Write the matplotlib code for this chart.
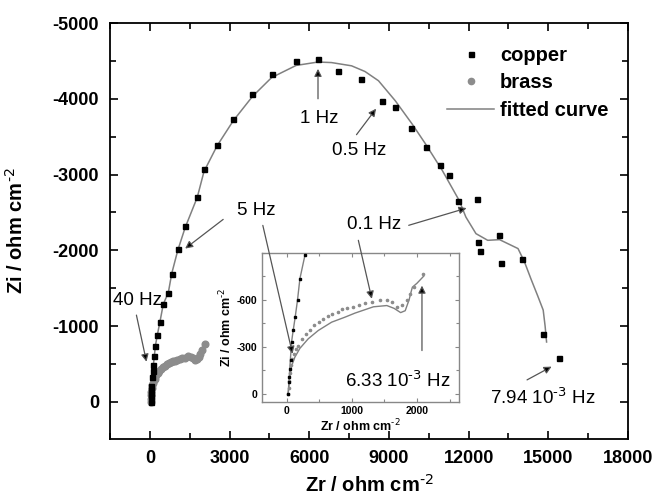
import matplotlib
matplotlib.use("Agg")
import matplotlib.pyplot as plt
from matplotlib.ticker import MultipleLocator
from matplotlib.lines import Line2D

plt.rcParams['font.family'] = ['Liberation Sans', 'DejaVu Sans']
plt.rcParams['mathtext.fontset'] = 'custom'
plt.rcParams['mathtext.default'] = 'regular'
plt.rcParams['axes.unicode_minus'] = False

# ---- data ----
cu_zr = [25, 33, 41, 51, 61, 77, 102, 133, 169, 205, 282, 380, 506, 696, 823, 1051,
         1329, 1785, 2038, 2532, 3140, 3861, 4583, 5506, 6330, 7088, 7962, 8733, 9239,
         9822, 10404, 10923, 11265, 11619, 12302, 12353, 12429, 13126, 13225, 13999,
         14782, 15416]
cu_zi = [0, -74, -106, -160, -213, -330, -404, -489, -600, -734, -883, -1057, -1290,
         -1443, -1693, -2023, -2325, -2698, -3075, -3395, -3728, -4058, -4321, -4497,
         -4523, -4365, -4260, -3970, -3886, -3610, -3369, -3128, -2996, -2649, -2680,
         -2110, -1991, -2207, -1838, -1886, -891, -575]

cuf_zr = [25, 50, 77, 102, 133, 169, 205, 282, 380, 506, 696, 823, 1051, 1329, 1785,
          2038, 2532, 3140, 3861, 4583, 5506, 6330, 6835, 7594, 8099, 8607, 9239, 9872,
          10378, 11011, 11645, 11897, 12277, 12720, 13164, 13860, 14100, 14350, 14600,
          14808, 14880, 14935]
cuf_zi = [0, -160, -330, -404, -489, -600, -734, -883, -1057, -1290, -1443, -1693,
          -2000, -2300, -2700, -3040, -3380, -3710, -4030, -4280, -4440, -4485, -4478,
          -4435, -4360, -4238, -3974, -3668, -3404, -3053, -2658, -2439, -2220, -2132,
          -2141, -2023, -1850, -1620, -1400, -1211, -1000, -790]

br_zr = [25, 35, 45, 55, 66, 90, 117, 150, 179, 231, 292, 358, 425, 497, 563, 631, 702,
         785, 855, 933, 1025, 1117, 1205, 1317, 1436, 1538, 1615, 1692, 1769, 1846,
         1897, 1948, 2092]
br_zi = [0, -40, -85, -130, -181, -220, -255, -285, -308, -351, -383, -410, -436, -457,
         -479, -495, -511, -525, -538, -545, -555, -564, -578, -585, -600, -596, -585,
         -553, -564, -596, -638, -681, -762]

brf_zr = [25, 50, 80, 128, 205, 333, 487, 692, 897, 1051, 1333, 1538, 1650, 1750, 1820,
          1880, 1910, 1930, 2000, 2103]
brf_zi = [0, -110, -180, -234, -290, -351, -404, -457, -489, -515, -555, -563, -545,
          -518, -530, -600, -650, -680, -705, -750]

x_ticks = [0, 3000, 6000, 9000, 12000, 15000, 18000]
y_ticks = [-5000, -4000, -3000, -2000, -1000, 0]
in_x_ticks = [0, 1000, 2000]
in_y_ticks = [-600, -300, 0]

FIT = '#808080'
BRASS = '#8c8c8c'
SUP2 = r'$^{\text{-2}}$'
SUP3 = r'$^{\text{-3}}$'

fig = plt.figure(figsize=(6.56, 4.98), dpi=100)
ax = fig.add_axes([0.1677, 0.1185, 0.7896, 0.8353])

ax.plot(cuf_zr, cuf_zi, color=FIT, lw=1.1, zorder=2)
ax.plot(brf_zr, brf_zi, color=FIT, lw=1.1, zorder=2)
ax.plot(br_zr, br_zi, 'o', color=BRASS, ms=4.8, mec=BRASS, zorder=3)
ax.plot(cu_zr, cu_zi, 's', color='black', ms=3.6, zorder=4)

ax.set_xlim(-1500, 18000)
ax.set_ylim(490, -5000)
ax.set_xticks(x_ticks)
ax.set_yticks(y_ticks)
ax.xaxis.set_minor_locator(MultipleLocator(1500))
ax.yaxis.set_minor_locator(MultipleLocator(500))
ax.tick_params(which='both', direction='in', top=True, right=True, width=1.2)
ax.tick_params(which='major', length=6, labelsize=13, pad=8)
ax.tick_params(which='minor', length=4)
for lab in ax.get_xticklabels() + ax.get_yticklabels():
    lab.set_fontweight('bold')
for s in ax.spines.values():
    s.set_linewidth(1.3)

ax.set_xlabel('Zr / ohm cm' + SUP2, fontsize=14.5, fontweight='bold')
ax.set_ylabel('Zi / ohm cm' + SUP2, fontsize=14.5, fontweight='bold')
ax.xaxis.set_label_coords(0.5, -0.085)
ax.yaxis.set_label_coords(-0.16, 0.5)

handles = [Line2D([], [], ls='none', marker='s', color='black', ms=3.6),
           Line2D([], [], ls='none', marker='o', color=BRASS, ms=4.5),
           Line2D([], [], color=FIT, lw=1.1)]
leg = ax.legend(handles, ['copper', 'brass', 'fitted curve'], loc='upper right',
                bbox_to_anchor=(0.962, 0.945), frameon=False, borderpad=0,
                borderaxespad=0, handlelength=2.3, handletextpad=0.3,
                labelspacing=0.42, prop={'weight': 'bold', 'size': 14.5})

arrow_kw = dict(arrowstyle='-|>', ec='#555555', fc='black', lw=0.9,
                mutation_scale=11, shrinkA=0, shrinkB=0)
TS = 13.5

ax.text(6379, -3737, '1 Hz', fontsize=TS, ha='center', va='center')
ax.annotate('', xy=(6330, -4395), xytext=(6330, -4000), arrowprops=arrow_kw)
ax.text(7860, -3316, '0.5 Hz', fontsize=TS, ha='center', va='center')
ax.annotate('', xy=(8517, -3869), xytext=(7779, -3526), arrowprops=arrow_kw)
ax.text(8430, -2342, '0.1 Hz', fontsize=TS, ha='center', va='center')
ax.annotate('', xy=(11923, -2557), xytext=(9745, -2330), arrowprops=arrow_kw)
ax.text(4006, -2527, '5 Hz', fontsize=TS, ha='center', va='center')
ax.annotate('', xy=(1329, -2023), xytext=(2760, -2408), arrowprops=arrow_kw)
ax.text(-475, -1342, '40 Hz', fontsize=TS, ha='center', va='center')
ax.annotate('', xy=(-127, -530), xytext=(-506, -1145), arrowprops=arrow_kw)
ax.text(14808, -53, '7.94 10' + SUP3 + ' Hz', fontsize=TS, ha='center', va='center')
ax.annotate('', xy=(15124, -465), xytext=(14200, -290), arrowprops=arrow_kw)

# ---- inset ----
axi = fig.add_axes([0.399, 0.1934, 0.3012, 0.2992])
axi.plot(cuf_zr, cuf_zi, color=FIT, lw=1.0, zorder=2)
axi.plot(brf_zr, brf_zi, color=FIT, lw=1.0, zorder=2)
axi.plot(cu_zr, cu_zi, 's', color='black', ms=1.6, zorder=4)
axi.plot(br_zr, br_zi, 'o', color=BRASS, ms=1.6, zorder=3)
axi.set_xlim(-380, 2650)
axi.set_ylim(50, -900)
axi.set_xticks(in_x_ticks)
axi.set_yticks(in_y_ticks)
axi.xaxis.set_minor_locator(MultipleLocator(500))
axi.yaxis.set_minor_locator(MultipleLocator(150))
axi.tick_params(which='both', direction='in', top=True, right=True,
                color='#888888', width=0.8)
axi.tick_params(which='major', length=3, labelsize=7.5, pad=3)
axi.tick_params(which='minor', length=2)
for lab in axi.get_xticklabels() + axi.get_yticklabels():
    lab.set_fontweight('bold')
for s in axi.spines.values():
    s.set_color('#888888')
    s.set_linewidth(1.0)
axi.set_xlabel('Zr / ohm cm' + SUP2, fontsize=9, fontweight='bold', labelpad=1)
axi.set_ylabel('Zi / ohm cm' + SUP2, fontsize=9, fontweight='bold', labelpad=2)

axi.text(1705, -85, '6.33 10' + SUP3 + ' Hz', fontsize=TS, ha='center', va='center')
axi.annotate('', xy=(2077, -690), xytext=(2077, -276), arrowprops=arrow_kw)
axi.annotate('', xy=(92, -255), xytext=(4253, -2329), textcoords=ax.transData,
             arrowprops=arrow_kw, annotation_clip=False)
axi.annotate('', xy=(1308, -606), xytext=(7849, -2132), textcoords=ax.transData,
             arrowprops=arrow_kw, annotation_clip=False)

fig.savefig('out.png', dpi=100)
